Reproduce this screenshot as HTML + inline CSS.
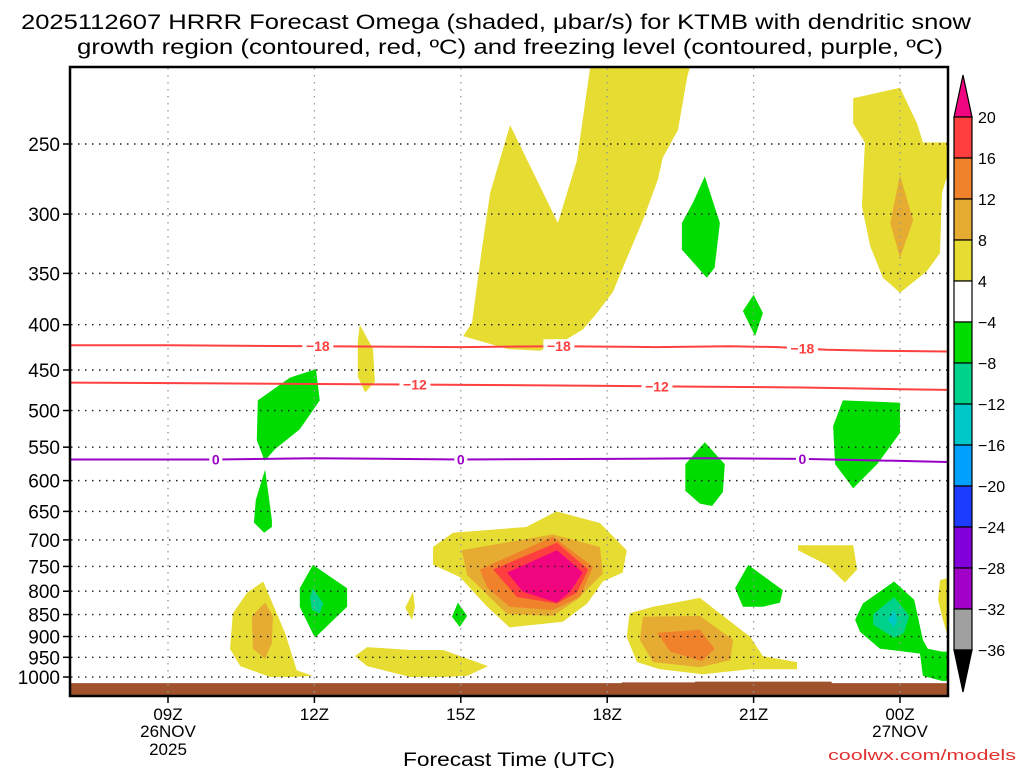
<!DOCTYPE html>
<html><head><meta charset="utf-8"><style>
html,body{margin:0;padding:0;background:#fff;}
svg{display:block;}
text{font-family:"Liberation Sans",sans-serif;}
</style></head><body>
<svg id="chart" width="1024" height="768" viewBox="0 0 1024 768" xmlns="http://www.w3.org/2000/svg">
<defs><clipPath id="plotclip"><rect x="71" y="68" width="876" height="627"/></clipPath></defs>
<g>
<text x="496" y="29" font-size="21" text-anchor="middle" textLength="950" lengthAdjust="spacingAndGlyphs" fill="#000">2025112607 HRRR Forecast Omega (shaded, μbar/s) for KTMB with dendritic snow</text>
<text x="510" y="54" font-size="21" text-anchor="middle" textLength="866" lengthAdjust="spacingAndGlyphs" fill="#000">growth region (contoured, red, ºC) and freezing level (contoured, purple, ºC)</text>
</g>
<g id="shading" clip-path="url(#plotclip)"></g>
<g id="grid"></g>
<g id="contours" clip-path="url(#plotclip)"></g>
<rect x="70" y="67" width="878" height="629" fill="none" stroke="#000" stroke-width="2.5"/>
<g id="yaxis"></g>
<g id="xaxis"></g>
<text x="509" y="766" font-size="19" text-anchor="middle" textLength="212" lengthAdjust="spacingAndGlyphs">Forecast Time (UTC)</text>
<text x="1016" y="760" font-size="15" text-anchor="end" fill="#e03030" font-family="Liberation Mono, monospace" textLength="188" lengthAdjust="spacingAndGlyphs">coolwx.com/models</text>
<g id="colorbar"></g>
</svg>
<script>
var pressureTicks=[250,300,350,400,450,500,550,600,650,700,750,800,850,900,950,1000];
var hourTicks=[9,12,15,18,21,24];
var hourLabels=["09Z","12Z","15Z","18Z","21Z","00Z"];
var dateLabels=[["26NOV","2025"],[],[],[],[],["27NOV"]];
var cbLevels=[20,16,12,8,4,-4,-8,-12,-16,-20,-24,-28,-32,-36];
var cbColors=["#ff3f3f","#f0822c","#e6ac32","#e6dc32","#ffffff","#00dc00","#00d28c","#00c8c8","#00a0ff","#1e3cff","#8200dc","#a000c8","#a0a0a0"];
var levelColor={"4":"#e6dc32","8":"#e6ac32","12":"#f0822c","16":"#ff3f3f","20":"#f0047f","-4":"#00dc00","-8":"#00d28c","-12":"#00c8c8"};
// shaded omega regions: level, hours, pressures (hPa)
var shapeLevels=[4,-4,-4,4,8,-4,-4,4,-4,-4,4,8,-4,-8,4,-4,4,4,8,12,16,20,4,8,12,-4,4,-4,-8,-12,4];
var shapeHours=[
[15.05,15.23,15.43,15.6,16.01,16.99,17.38,17.65,17.65,19.8,19.64,19.45,19.14,19.04,18.73,18.32,18.12,17.79,17.5,17.09,16.62,15.95,15.33],
[19.76,20.0,20.31,20.2,20.04,19.53,19.53],
[21.0,21.19,21.03,20.78],
[23.04,24.0,24.35,24.47,24.98,24.98,24.86,24.82,24.55,24.0,23.65,23.39,23.22,23.28,23.04],
[24.0,24.27,24.0,23.8],
[22.83,24.0,24.0,23.53,23.04,22.67,22.63],
[20.0,20.41,20.37,20.15,19.9,19.6,19.6],
[12.93,13.2,13.24,13.04,12.89,12.89],
[10.84,11.5,12.03,12.11,11.7,11.19,10.98,10.82],
[10.99,11.05,11.13,11.13,10.97,10.76,10.8],
[10.95,11.4,11.64,11.97,11.56,11.09,10.48,10.27,10.33,10.62],
[10.99,11.15,11.13,10.99,10.74,10.72],
[11.97,12.67,12.67,12.01,11.7,11.7],
[11.97,12.18,12.11,11.95,11.91],
[14.02,13.86,14.0,14.06],
[14.94,15.13,14.98,14.82],
[12.83,13.08,13.96,14.64,15.56,15.13,14.64,13.96,13.08],
[14.43,14.84,16.34,16.96,17.85,18.4,18.32,17.91,17.59,17.09,16.0,15.54,14.98,14.43],
[15.02,16.89,17.85,17.91,17.38,16.89,15.95,15.13],
[15.39,16.89,17.71,17.44,16.89,16.0,15.54],
[15.66,16.97,17.61,17.38,16.97,16.15],
[15.95,16.97,17.5,17.24,16.97,16.27],
[18.46,18.94,19.9,20.93,21.19,21.89,21.89,20.93,19.96,19.08,18.61,18.4],
[18.73,19.9,20.58,20.52,19.9,18.94,18.67],
[19.02,19.9,20.2,19.94,19.29],
[20.89,21.6,21.54,21.19,20.78,20.62],
[21.91,23.04,23.12,22.87,22.5,21.91],
[23.88,24.29,24.47,24.57,24.86,25.0,25.0,24.86,24.47,24.41,23.59,23.18,23.08,23.24],
[23.88,24.19,24.08,23.88,23.45,23.45],
[23.88,23.94,23.88,23.75],
[24.82,25.0,25.0,24.88,24.78]
];
var shapePressures=[
[412,398,329,284,238,307,261,205,195,195,210,241,259,274,305,345,367,388,405,418,428,426],
[291,272,307,345,354,329,307],
[370,388,412,386],
[222,216,237,249,249,270,284,332,348,368,354,326,294,249,237],
[271,305,336,307],
[487,490,530,575,612,575,521],
[543,575,618,641,637,616,575],
[400,426,464,477,458,417],
[487,459,449,487,525,553,570,540],
[583,616,665,677,687,669,631],
[780,892,983,997,1000,1000,972,929,847,803],
[824,853,915,954,929,853],
[747,794,833,903,833,794],
[794,826,847,840,812],
[801,835,862,833],
[824,853,878,855],
[947,925,932,932,972,997,1000,1000,972],
[713,687,677,650,670,719,762,780,826,866,879,833,771,747],
[719,690,713,764,818,853,849,767],
[756,694,751,812,840,833,792],
[756,705,756,803,826,812],
[762,719,762,801,824,801],
[847,833,814,901,947,962,980,980,993,980,962,901],
[855,853,908,957,975,962,908],
[891,884,929,960,936],
[747,798,824,833,833,794],
[710,710,756,782,747,719],
[780,818,908,929,936,936,1010,1010,997,941,929,889,862,826],
[812,853,891,903,873,849],
[840,862,878,862],
[777,773,908,862,818]
];
var iso18Hours=[6.9,9,12,15,17,19,20.5,21.5,22.5,23.5,25.1];
var iso18Press=[422,422,423,424,423,424,423,424,427,428,429];
var iso12Hours=[6.9,10,13,16,18,20,22,24,25.1];
var iso12Press=[465,466,467,468,469,470,471,473,474];
var iso0Hours=[6.9,10,12,15,18,20,22,24,25.1];
var iso0Press=[568,568,566,568,567,566,567,570,572];
var iso18LabelHours=[12.07,17.01,22.0];
var iso12LabelHours=[14.06,19.02];
var iso0LabelHours=[9.98,15.0,22.0];
var groundHours=[6.9,18.3,18.3,19.8,19.8,22.6,22.6,25.1];
var groundPress=[1016,1016,1014,1014,1012,1012,1016,1016];

var NS="http://www.w3.org/2000/svg";
function X(h){return 168+(h-9)*48.8;}
function Y(p){return 144+384.5*Math.log(p/250);}
function mk(tag,attrs,parent){var e=document.createElementNS(NS,tag);for(var k in attrs)e.setAttribute(k,attrs[k]);parent.appendChild(e);return e;}
var shading=document.getElementById('shading');
var gpts=groundHours.map(function(h,i){return X(h)+','+Y(groundPress[i]);});
gpts.push(X(25.1)+',700',X(6.9)+',700');
var ground=mk('polygon',{points:gpts.join(' '),fill:'#a0522d'},shading);


shapeHours.forEach(function(hs,i){
  var pts=hs.map(function(h,j){return X(h).toFixed(1)+','+Y(shapePressures[i][j]).toFixed(1);}).join(' ');
  var poly=mk('polygon',{points:pts,fill:levelColor[String(shapeLevels[i])]},shading);
  
  
});
var grid=document.getElementById('grid');
pressureTicks.forEach(function(p){
  var l=mk('line',{x1:71,x2:947,y1:Y(p),y2:Y(p),stroke:'#222','stroke-width':1.4,'stroke-dasharray':'1.5 5.5'},grid);
  
  
});
hourTicks.forEach(function(h){
  var l=mk('line',{x1:X(h),x2:X(h),y1:68,y2:695,stroke:'#999','stroke-width':1.3,'stroke-dasharray':'1.5 5.5'},grid);
  
  
});
var cont=document.getElementById('contours');
function line(hs,ps,color,name){
  var d=hs.map(function(h,i){return (i?'L':'M')+X(h).toFixed(1)+','+Y(ps[i]).toFixed(1);}).join(' ');
  var pth=mk('path',{d:d,fill:'none',stroke:color,'stroke-width':2},cont);
  
  
}
function interp(hs,ps,h){for(var i=0;i<hs.length-1;i++){if(h>=hs[i]&&h<=hs[i+1]){var t=(h-hs[i])/(hs[i+1]-hs[i]);return ps[i]+t*(ps[i+1]-ps[i]);}}return ps[0];}
function labels(lh,hs,ps,txt,color,name){
  lh.forEach(function(h){
    var x=X(h),y=Y(interp(hs,ps,h));
    var w=txt.length*9+4;
    mk('rect',{x:x-w/2,y:y-7,width:w,height:14,fill:'#fff'},cont);
    var t=mk('text',{x:x,y:y+5,'font-size':14,'font-weight':'bold','text-anchor':'middle',fill:color},cont);
    t.textContent=txt;
    
    
  });
}
line(iso18Hours,iso18Press,'#ff4040','contour-minus18');
line(iso12Hours,iso12Press,'#ff4040','contour-minus12');
line(iso0Hours,iso0Press,'#9a00c8','contour-freezing');
labels(iso18LabelHours,iso18Hours,iso18Press,'−18','#ff4040','contour-label-minus18');
labels(iso12LabelHours,iso12Hours,iso12Press,'−12','#ff4040','contour-label-minus12');
labels(iso0LabelHours,iso0Hours,iso0Press,'0','#9a00c8','contour-label-0');
var ya=document.getElementById('yaxis');
pressureTicks.forEach(function(p){
  mk('line',{x1:63,x2:70,y1:Y(p),y2:Y(p),stroke:'#000','stroke-width':1.5},ya);
  var t=mk('text',{x:60,y:Y(p)+7,'font-size':19,'text-anchor':'end',fill:'#000'},ya);
  t.textContent=p;
  
  
});
var xa=document.getElementById('xaxis');
hourTicks.forEach(function(h,i){
  mk('line',{x1:X(h),x2:X(h),y1:696,y2:703,stroke:'#000','stroke-width':1.5},xa);
  var t=mk('text',{x:X(h),y:720,'font-size':17,'text-anchor':'middle',fill:'#000'},xa);
  t.textContent=hourLabels[i];
  
  
  dateLabels[i].forEach(function(s,j){
    var d=mk('text',{x:X(h),y:737+j*18,'font-size':17,'text-anchor':'middle',fill:'#000'},xa);
    d.textContent=s;
    
    
  });
});
var cb=document.getElementById('colorbar');
var cbTop=117,cbStep=41,cbX=954,cbW=18;
var tri=mk('polygon',{points:(cbX)+','+cbTop+' '+(cbX+cbW)+','+cbTop+' '+(cbX+cbW/2)+','+(cbTop-42),fill:'#f0047f',stroke:'#000','stroke-width':1.2},cb);


cbColors.forEach(function(c,i){
  var r=mk('rect',{x:cbX,y:cbTop+i*cbStep,width:cbW,height:cbStep,fill:c,stroke:'#000','stroke-width':1.2},cb);
  
  
});
var bottom=cbTop+cbColors.length*cbStep;
var tri2=mk('polygon',{points:cbX+','+bottom+' '+(cbX+cbW)+','+bottom+' '+(cbX+cbW/2)+','+(bottom+42),fill:'#000',stroke:'#000','stroke-width':1.2},cb);


cbLevels.forEach(function(v,i){
  var t=mk('text',{x:978,y:cbTop+i*cbStep+6,'font-size':16,fill:'#000'},cb);
  t.textContent=v<0?('−'+Math.abs(v)):String(v);
  
  
});
</script>
</body></html>
